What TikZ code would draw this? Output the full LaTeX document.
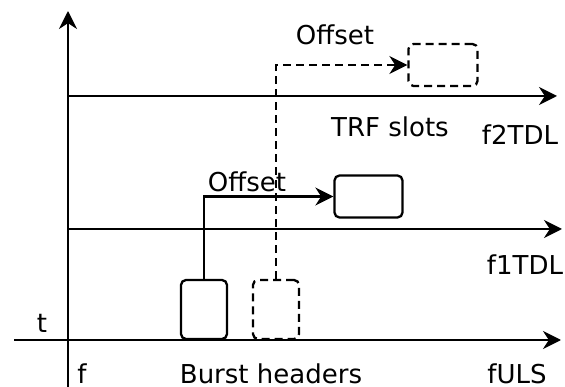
\documentclass[tikz,border=0pt]{standalone}
\usepackage{fontspec}
\setmainfont{DejaVu Sans}
\usetikzlibrary{arrows.meta}

\begin{document}
\begin{tikzpicture}[
                    x=1pt,
                    y=-1pt,
                    >={Stealth[length=18pt,width=18pt]},
                    line width=2.3pt,
                    font=\fontsize{26}{30}\selectfont
                ]
                \tikzstyle{slot}=[draw,rounded corners=5pt,inner sep=0pt]
                \tikzstyle{ghost}=[slot,dash pattern=on 8pt off 5pt]
                \tikzstyle{lbl}=[inner sep=0pt,anchor=base]

                \useasboundingbox (0,0) rectangle (565,387);

                % axes
                \coordinate (ftop)   at (68,11);
                \coordinate (fbot)   at (68,390);
                \coordinate (tleft)  at (14,340);
                \coordinate (tright) at (561,340);
                \coordinate (aone)   at (68,229);
                \coordinate (bone)   at (562,229);
                \coordinate (atwo)   at (68,96);
                \coordinate (btwo)   at (557,96);

                \draw[->] (fbot) -- (ftop);
                \draw[->] (tleft) -- (tright);
                \draw[->] (aone) -- (bone);
                \draw[->] (atwo) -- (btwo);

                % slots
                \node[slot,minimum width=46pt,minimum height=59pt]  (hb1)  at (204,309.5) {};
                \node[ghost,minimum width=46pt,minimum height=59pt] (hb2)  at (276,309.5) {};
                \node[slot,minimum width=68pt,minimum height=42pt]  (trf1) at (368.5,196.5) {};
                \node[ghost,minimum width=69pt,minimum height=42pt] (trf2) at (443,65) {};

                \draw[->] (hb1.north) |- (trf1.west);
                \draw[->,dash pattern=on 8pt off 5pt] (hb2.north) |- (trf2.west);

                % labels
                \node[lbl] (off1)  at (247,192) {Offset};
                \node[lbl] (off2)  at (335,45)  {Offset};
                \node[lbl] (trf)   at (390,137) {TRF slots};
                \node[lbl] (burst) at (271,383) {Burst headers};
                \node[lbl] (ftwo)  at (520,145) {f2TDL};
                \node[lbl] (fone)  at (525,275) {f1TDL};
                \node[lbl] (fuls)  at (517,383) {fULS};
                \node[lbl] (tlbl)  at (42,333)  {t};
                \node[lbl] (flbl)  at (82,383)  {f};
\end{tikzpicture}
\end{document}
